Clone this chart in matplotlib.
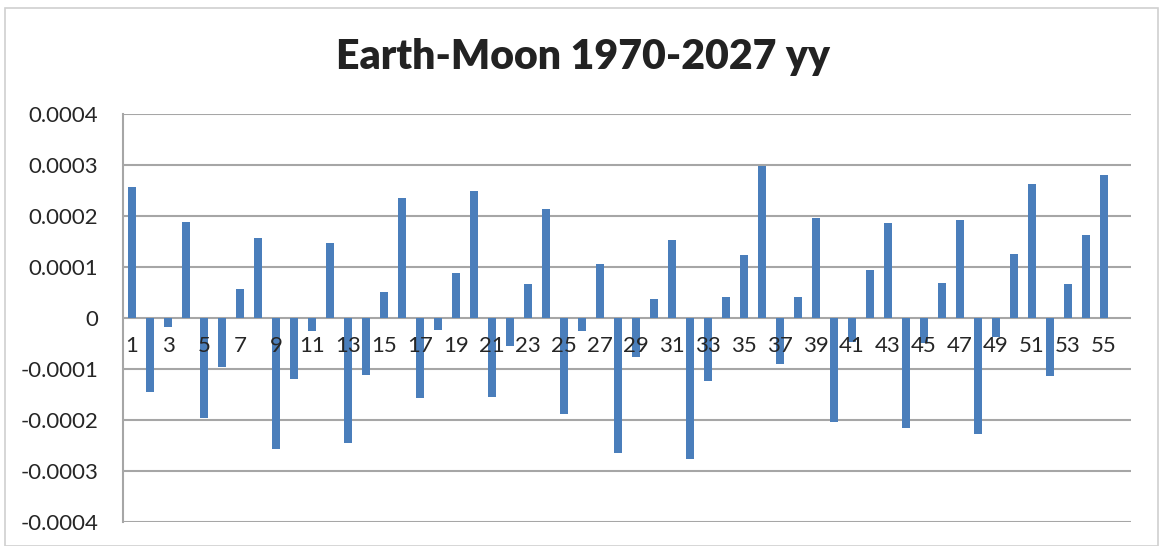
import matplotlib
matplotlib.use("Agg")
from matplotlib import pyplot as plt
from matplotlib.patches import Rectangle
import numpy as np

# bar values (units of 1e-4)
categories = list(range(1, 56))
values_e4 = [
    2.57, -1.46, -0.17, 1.89, -1.97, -0.97, 0.56, 1.57, -2.56, -1.19,
    -0.25, 1.48, -2.45, -1.12, 0.51, 2.35, -1.57, -0.23, 0.88, 2.49,
    -1.54, -0.54, 0.67, 2.13, -1.88, -0.26, 1.06, -2.65, -0.77, 0.37,
    1.52, -2.76, -1.23, 0.41, 1.24, 2.99, -0.90, 0.41, 1.97, -2.03,
    -0.48, 0.95, 1.87, -2.15, -0.49, 0.69, 1.93, -2.28, -0.38, 1.26,
    2.62, -1.13, 0.67, 1.63, 2.81,
]
values = [v * 1e-4 for v in values_e4]
yticks = [-0.0004, -0.0003, -0.0002, -0.0001, 0, 0.0001, 0.0002, 0.0003, 0.0004]
ytick_labels = ["-0.0004", "-0.0003", "-0.0002", "-0.0001", "0",
                "0.0001", "0.0002", "0.0003", "0.0004"]
xtick_labels = [str(c) for c in categories[::2]]

plt.rcParams['font.family'] = ['Lato', 'DejaVu Sans']

W, H = 1160, 546
fig = plt.figure(figsize=(W / 100, H / 100), dpi=100)
# outer chart border
fig.patches.append(Rectangle((5 / W, 0), (1158 - 5) / W, (H - 8) / H,
                             transform=fig.transFigure, fill=False,
                             edgecolor="#d0d0d0", linewidth=1.2))

ax = fig.add_axes([123 / W, (H - 522) / H, (1131 - 123) / W, (522 - 114) / H])

ax.bar(categories, values, width=0.39, color="#4a7ebb", zorder=2)

# one empty slot after the last category, as in the source sheet
ax.set_xlim(0.5, 56.5)
ax.set_ylim(-0.0004, 0.0004)
ax.set_yticks(yticks)
ax.set_yticklabels(ytick_labels)
ax.grid(axis="y", color="#a6a6a6", linewidth=1.5, zorder=0)

# category labels sit on the zero line, drawn over the bars
ax.spines['bottom'].set_position(('data', 0))
ax.spines['bottom'].set_visible(False)
ax.xaxis.set_zorder(4)
ax.set_xticks(categories[::2])
ax.set_xticklabels(xtick_labels)
ax.tick_params(axis="x", length=0, pad=13, labelsize=16, labelcolor="#262626")
ax.tick_params(axis="y", length=0, pad=18, labelsize=16, labelcolor="#262626")

for s in ["top", "right"]:
    ax.spines[s].set_visible(False)
ax.spines['left'].set_color("#a6a6a6")
ax.spines['left'].set_linewidth(1.5)

fig.text(583 / W, 1 - 57 / H, "Earth-Moon 1970-2027 yy", ha="center", va="center",
         fontsize=29.5, fontweight="heavy", color="#222222")

fig.savefig("out.png", dpi=100)
